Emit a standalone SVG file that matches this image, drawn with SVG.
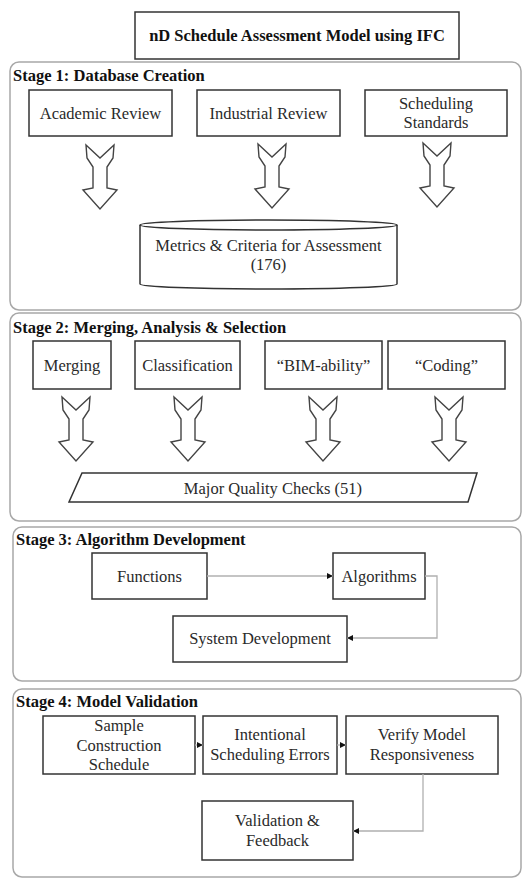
<svg xmlns="http://www.w3.org/2000/svg" width="524" height="878" viewBox="0 0 524 878">
<defs>
<style>
.panel{fill:#fff;stroke:#a8a8a8;stroke-width:1.5}
.box{fill:#fff;stroke:#333;stroke-width:1.5}
.t{font-family:"Liberation Serif","Times New Roman","DejaVu Serif",serif;font-size:16.5px;fill:#2a2a2a;text-anchor:middle}
.h{font-family:"Liberation Serif","Times New Roman","DejaVu Serif",serif;font-size:16.5px;font-weight:bold;fill:#111}
.bigarrow{fill:#fff;stroke:#444;stroke-width:1.4;stroke-linejoin:miter}
.conn{fill:none;stroke:#b0b0b0;stroke-width:1.3}
</style>
<marker id="ah" viewBox="0 0 6 6" refX="6" refY="3" markerWidth="6" markerHeight="6" markerUnits="userSpaceOnUse" orient="auto">
<path d="M0,0 L6,3 L0,6 Z" fill="#111"/>
</marker>
<path id="blockArrow" class="bigarrow" d="M-14,0 L0,13 L14,0 L13,13 L7,22 L7,43 L17,45 L0,64 L-17,45 L-7,43 L-7,22 L-13,13 Z"/>
</defs>
<rect width="524" height="878" fill="#fff"/>

<g id="title">
<rect class="box" x="135" y="12" width="324" height="47"/>
<text class="h" x="297" y="41" text-anchor="middle">nD Schedule Assessment Model using IFC</text>
</g>

<g id="stage1">
<rect class="panel" x="10" y="62" width="511" height="248" rx="9"/>
<text class="h" x="13" y="81">Stage 1: Database Creation</text>
</g>
<g id="stage2">
<rect class="panel" x="10" y="313" width="511" height="208" rx="9"/>
<text class="h" x="13" y="333">Stage 2: Merging, Analysis &amp; Selection</text>
</g>
<g id="stage3">
<rect class="panel" x="13" y="527" width="508" height="154" rx="9"/>
<text class="h" x="16" y="545">Stage 3: Algorithm Development</text>
</g>
<g id="stage4">
<rect class="panel" x="13" y="689" width="508" height="188" rx="9"/>
<text class="h" x="16" y="707">Stage 4: Model Validation</text>
</g>

<g id="academic-review">
<rect class="box" x="29" y="90" width="143" height="46"/>
<text class="t" x="100.5" y="119">Academic Review</text>
</g>
<g id="industrial-review">
<rect class="box" x="197" y="90" width="143" height="46"/>
<text class="t" x="268.5" y="119">Industrial Review</text>
</g>
<g id="scheduling-standards">
<rect class="box" x="365" y="90" width="142" height="46"/>
<text class="t" x="436" y="109">Scheduling</text>
<text class="t" x="436" y="128">Standards</text>
</g>
<g id="metrics">
<path class="box" d="M140,225 A128.5,5 0 0 1 397,225 L397,284 A128.5,5 0 0 1 140,284 Z"/>
<path fill="none" stroke="#333" stroke-width="1.5" d="M140,225 A128.5,5 0 0 0 397,225"/>
<text class="t" x="268.5" y="251">Metrics &amp; Criteria for Assessment</text>
<text class="t" x="268.5" y="270">(176)</text>
</g>

<g id="merging">
<rect class="box" x="33" y="341" width="78" height="48"/>
<text class="t" x="72" y="371">Merging</text>
</g>
<g id="classification">
<rect class="box" x="135" y="341" width="105" height="48"/>
<text class="t" x="187.5" y="371">Classification</text>
</g>
<g id="bim-ability">
<rect class="box" x="265" y="341" width="117" height="48"/>
<text class="t" x="323.5" y="371">“BIM-ability”</text>
</g>
<g id="coding">
<rect class="box" x="388" y="341" width="117" height="48"/>
<text class="t" x="446.5" y="371">“Coding”</text>
</g>
<g id="quality-checks">
<path class="box" d="M82,473 L477,473 L468,502 L69,502 Z"/>
<text class="t" x="273" y="494">Major Quality Checks (51)</text>
</g>

<g id="functions">
<rect class="box" x="92" y="553" width="115" height="46"/>
<text class="t" x="149.5" y="582">Functions</text>
</g>
<g id="algorithms">
<rect class="box" x="333" y="553" width="92" height="46"/>
<text class="t" x="379" y="582">Algorithms</text>
</g>
<g id="system-development">
<rect class="box" x="173" y="616" width="174" height="46"/>
<text class="t" x="260" y="644">System Development</text>
</g>

<g id="sample-schedule">
<rect class="box" x="43" y="716" width="152" height="58"/>
<text class="t" x="119" y="731">Sample</text>
<text class="t" x="119" y="751">Construction</text>
<text class="t" x="119" y="770">Schedule</text>
</g>
<g id="intentional-errors">
<rect class="box" x="203" y="716" width="134" height="58"/>
<text class="t" x="270" y="740">Intentional</text>
<text class="t" x="270" y="760">Scheduling Errors</text>
</g>
<g id="verify-model">
<rect class="box" x="346" y="716" width="152" height="58"/>
<text class="t" x="422" y="740">Verify Model</text>
<text class="t" x="422" y="760">Responsiveness</text>
</g>
<g id="validation-feedback">
<rect class="box" x="202" y="801" width="151" height="59"/>
<text class="t" x="277.5" y="826">Validation &amp;</text>
<text class="t" x="277.5" y="846">Feedback</text>
</g>

<g id="connectors">
<use href="#blockArrow" x="100" y="145"/>
<use href="#blockArrow" x="272" y="144"/>
<use href="#blockArrow" x="437" y="143"/>
<use href="#blockArrow" x="76" y="397"/>
<use href="#blockArrow" x="188" y="397"/>
<use href="#blockArrow" x="323" y="397"/>
<use href="#blockArrow" x="449" y="397"/>
<path class="conn" marker-end="url(#ah)" d="M207,576 L333,576"/>
<path class="conn" marker-end="url(#ah)" d="M425,576 L437,576 L437,638 L347,638"/>
<path class="conn" marker-end="url(#ah)" d="M195,745 L203,745"/>
<path class="conn" marker-end="url(#ah)" d="M337,745 L346,745"/>
<path class="conn" marker-end="url(#ah)" d="M423,774 L423,831 L353,831"/>
</g>
</svg>
